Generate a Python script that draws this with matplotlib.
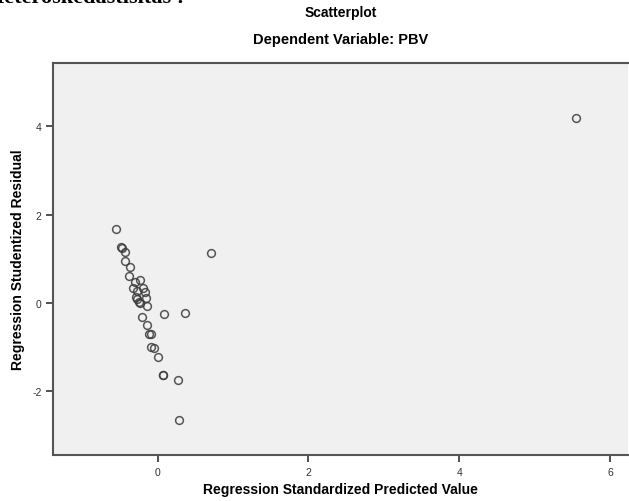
import matplotlib.pyplot as plt

# Regression standardized predicted value (x) vs studentized residual (y)
pred = [-0.556, -0.486, -0.473, -0.429, -0.433, -0.371, -0.384, -0.230, -0.301,
        -0.331, -0.199, -0.270, -0.164, -0.287, -0.270, -0.252, -0.151, -0.234,
        -0.142, -0.212, 0.083, 0.366, -0.138, -0.111, -0.093, -0.085, -0.045,
        0.000, 0.066, 0.074, 0.269, 0.282, 0.706, 5.54]
resid = [1.667, 1.26, 1.24, 1.15, 0.957, 0.814, 0.611, 0.514, 0.468,
         0.333, 0.333, 0.278, 0.249, 0.129, 0.090, 0.016, 0.113, -0.007,
         -0.068, -0.310, -0.242, -0.233, -0.498, -0.695, -0.695, -0.989, -1.011,
         -1.215, -1.629, -1.636, -1.742, -2.654, 1.138, 4.18]
xticks = [0, 2, 4, 6]
yticks = [-2, 0, 2, 4]

plt.rcParams['font.family'] = ['Liberation Sans', 'DejaVu Sans']
plt.rcParams['axes.unicode_minus'] = False

fig = plt.figure(figsize=(6.29, 5.02), dpi=100)
ax = fig.add_axes([0.0847, 0.0916, 0.913, 0.780])
ax.set_facecolor('#f0f0f0')

ax.plot(pred, resid, 'o', ls='none', mfc='none', mec='#3a3a3a', ms=5.6, mew=1.1, alpha=0.85)

ax.set_xlim(-1.383, 6.23)
ax.set_ylim(-3.44, 5.42)
ax.set_xticks(xticks)
ax.set_yticks(yticks)
ax.tick_params(labelsize=7.5, colors='#333333', length=5, width=1.2)

for s in ['left', 'bottom', 'top']:
    ax.spines[s].set_color('#555555')
    ax.spines[s].set_linewidth(1.5)
ax.spines['right'].set_visible(False)

# axis titles placed in figure pixels to match the reference
fig.text(340/629, 1 - 490/502, 'Regression Standardized Predicted Value', ha='center', va='center',
         fontsize=10, fontweight='bold')
fig.text(18/629, 1 - 260/502, 'Regression Studentized Residual', ha='center', va='center',
         rotation=90, fontsize=10, fontweight='bold')

fig.text(0.541, 1 - 13/502, 'Scatterplot', ha='center', va='center', fontsize=10, fontweight='bold')
fig.text(0.541, 1 - 40/502, 'Dependent Variable: PBV', ha='center', va='center', fontsize=10.5, fontweight='bold')

# cropped heading of the page above the chart
fig.text(-0.02, 1 - 3/502, 'Heteroskedastisitas :', ha='left', va='baseline', fontsize=16,
         fontweight='bold', family='Liberation Serif')

fig.savefig('out.png', dpi=100)
